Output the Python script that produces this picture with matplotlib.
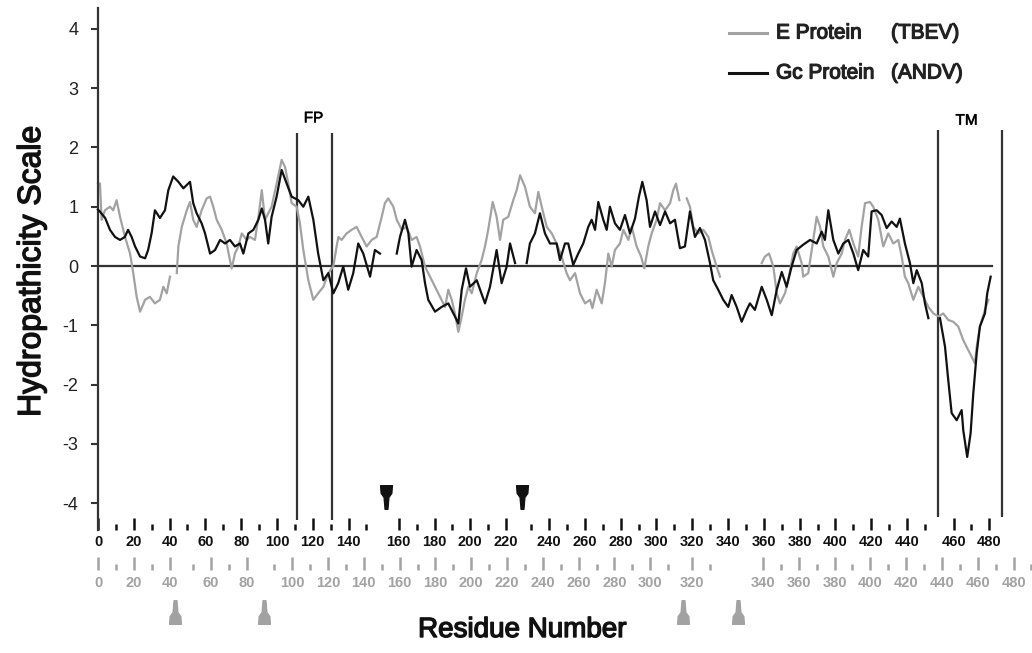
import numpy as np
import matplotlib

matplotlib.use("Agg")
import matplotlib.pyplot as plt
import matplotlib.patheffects as pe
from matplotlib.path import Path as MPath

plt.rcParams["font.family"] = ["Liberation Sans", "DejaVu Sans"]
plt.rcParams["axes.unicode_minus"] = False

nan = np.nan

# Gc protein (ANDV) hydropathy, x = alignment position
gc_x = [0, 1, 4, 6.7, 9.5, 12.3, 15, 16.8, 18.8, 20.7, 23.5, 26.3, 28, 30, 31.8, 34.6, 37.4, 39.3,
        42, 44.9, 47.7, 51.4, 53.2, 55.1, 57.9, 59.8, 62.6, 65.4, 68.2, 71, 73.7, 76.5, 79.3, 81.2,
        84, 86.8, 89.6, 91.5, 93.3, 95.1, 97, 99.8, 102.6, 105.4, 108.2, 111.9, 114.7, 117.5, 120.3,
        123, 125.9, 128.7, 131.5, 134.2, 137, 139.8, 142.6, 145.4, 148.2, 152, 154.7, 157.5, 160,
        166.9, 168.7, 171.5, 173.4, 175.2, 178, 180.8, 182.7, 184.5, 188.3, 192, 195.7, 199.4, 201.3,
        203.2, 205.6, 207.8, 211.6, 216.2, 219, 222.7, 225.5, 228.3, 230.2, 233, 236,
        239.5, 241.3, 244.1, 246.9, 249.7, 252.5, 256.2, 258.1, 260.9, 262.7, 265.5, 268.3, 271.1,
        273.9, 275.8, 277.7, 279.5, 282.3, 284.2, 286, 288.8, 291.6, 294.4, 297.2, 300, 302.2, 304.1,
        306.5, 308.4, 311.2, 314, 316.8, 319.6, 322.3, 325.1, 327.9, 330.7, 333.5, 336.3, 339.1,
        341.9, 343.7, 346.5, 349.3, 352.1, 354, 356.8, 359.6, 362.4, 364.2, 367, 370.8, 373.6, 376.4,
        379.2, 382, 384.7, 387.5, 390.3, 394, 397.8, 401.5, 404.3, 406.1, 408, 410.8, 413.6, 416.4,
        419.2, 422, 424.7, 427.5, 430.3, 432.2, 435, 437.8, 440.6, 443.4, 446.2, 448, 450.8, 453.6,
        455.5, 457.4, 460.2, 462, 463.9, 467,
        470.4, 473.2, 475, 476.9, 479.7, 482.5, 483.4, 485.6, 487.5, 489, 490.9, 492.7, 495.5,
        496.8, 498.7]
gc_y = [0.95, 0.92, 0.81, 0.61, 0.49, 0.44, 0.49, 0.61, 0.49, 0.33, 0.16, 0.13, 0.27, 0.56, 0.94,
        0.81, 0.94, 1.28, 1.51, 1.42, 1.31, 1.42, 1.06, 0.89, 0.72, 0.55, 0.21, 0.27, 0.44, 0.38,
        0.44, 0.33, 0.38, 0.21, 0.55, 0.61, 0.78, 0.97, 0.78, 0.38, 0.83, 1.17, 1.62, 1.39, 1.17,
        1.11, 1.0, 1.17, 0.78, 0.21, -0.24, -0.12, -0.46, -0.29, -0.01, -0.40, -0.12, 0.38, 0.21,
        -0.18, 0.27, 0.21, nan,
        0.21, 0.49, 0.78, 0.55, -0.01, 0.27, 0.10, -0.29, -0.57, -0.77, -0.69, -0.63, -0.85, -0.97,
        -0.40, -0.04, -0.35, -0.24, -0.63, -0.35, 0.27, -0.29, -0.01, 0.38, 0.05, nan,
        0.05, 0.38, 0.55, 0.89, 0.55, 0.38, 0.38, 0.10, 0.38, 0.38, 0.02, 0.21, 0.38,
        0.66, 0.78, 0.61, 1.08, 0.78, 0.61, 1.0, 0.72, 0.61, 0.86, 0.55, 0.80, 1.17, 1.42,
        1.11, 0.66, 0.92, 0.69, 0.92, 0.72, 0.78, 0.30, 0.33, 0.92, 0.49, 0.64, 0.44,
        0.05, -0.24, -0.40, -0.57, -0.69, -0.49, -0.69, -0.94, -0.74, -0.63, -0.74, -0.35, -0.57, -0.83,
        -0.40, -0.10, -0.35, -0.01, 0.27, 0.36, 0.44, 0.38, 0.58, 0.44, 0.94, 0.44, 0.21, 0.38,
        0.44, 0.21, -0.07, 0.27, 0.16, 0.92, 0.94, 0.86, 0.64, 0.75, 0.66, 0.80, 0.38, 0.05,
        -0.29, -0.07, -0.29, -0.63, -0.88, nan,
        -0.88, -1.36, -1.92, -2.48, -2.60, -2.43, -2.77, -3.22, -2.82, -2.15, -1.47, -1.02, -0.80,
        -0.46, -0.18]

# E protein (TBEV) hydropathy, x = alignment position
e_x = [0, 1.1, 2, 3.9, 6.7, 8.5, 10.4, 12.3, 15.1, 17.9, 19.7, 21.6, 23.5, 26.3, 29, 31.8, 34.6,
       36.5, 38.4, 40.2, 42,
       44, 44.9, 46.8, 49.6, 51.4, 53.2, 55.1, 57.9, 60.7, 62.6, 64.4, 66.3, 69.1, 71.9, 73.7, 74.7,
       76.5, 78.4, 80.3, 83.1, 84.9, 87.7, 89.9, 91.5, 93.3, 97, 99.8, 102.6, 104.5, 106.3, 108.2,
       111, 112.8, 114.7, 117.5, 120.3, 123, 125.9, 128.7, 131.5, 133.3, 134.3, 136.1, 138.9, 141.7,
       144.5, 147.3, 150.1, 152.9, 155.7, 158.5, 160.3, 162.2, 165, 166.9, 169.7, 172.4, 175.2, 178,
       179.9, 182.7, 185.5, 188.3, 191.1, 193.9, 195.7, 197.6, 199.4, 201.3, 203.2, 205, 206.9,
       208.8, 211.6, 214.3, 216.2, 218, 220.5, 222.7, 224.6, 226.4, 229.2, 232, 233.9, 235.8, 238.5,
       241.3, 244.1, 246, 247.9, 250.7, 253.5, 256.2, 259, 261.8, 263.7, 266.5, 269.3, 272.1, 274.9,
       276.2, 278.6, 281.4, 283.2, 285.1, 287, 288.8, 291.6, 293.5, 296.3, 298.2, 300.9, 303.4,
       305.2, 307.4, 309.3, 312.1, 314, 316.8, 319.6, 321.4, 322.9, 324.8, 327,
       328.9, 330.7, 332.6, 335.4, 338.2, 341, 342.8, 345.6, 347.5, 360,
       370.8, 372.6, 374.9, 377.3, 379.2, 381, 383.8, 385.6, 388.4, 390.3, 393.1, 394, 396.8, 399.6,
       401.5, 403.4, 405.2, 408, 410.8, 412.7, 415.5, 417.3, 419.7, 422, 424.7, 426.6, 428.5, 431.3,
       433.1, 435.9, 438.7, 441.5, 444.3, 447.1, 449, 450.8, 452.7, 455.5, 458.3, 461.1, 463.9,
       466.7, 469.6, 472.2, 475, 477.8, 480.6, 483.4, 486.2, 488.1, 489.9, 490.9, 492.7, 495.5, 497.4]
e_y = [1.40, 1.39, 0.78, 0.94, 1.0, 0.94, 1.11, 0.83, 0.49, 0.21, -0.12, -0.52, -0.77, -0.57,
       -0.52, -0.63, -0.57, -0.35, -0.46, -0.18, nan,
       -0.12, 0.33, 0.66, 0.94, 1.08, 0.78, 0.66, 0.94, 1.14, 1.17, 1.0, 0.78, 0.61, 0.38, 0.10,
       -0.04, 0.21, 0.33, 0.55, 0.44, 0.49, 0.44, 0.89, 1.28, 0.78, 1.0, 1.39, 1.79, 1.67, 1.39,
       1.06, 1.0, 0.72, 0.27, -0.24, -0.57, -0.46, -0.35, -0.12, 0.0, 0.33, 0.49, 0.44, 0.55, 0.61,
       0.66, 0.49, 0.33, 0.44, 0.49, 0.83, 1.06, 1.14, 1.0, 0.78, 0.61, 0.66, 0.44, 0.49,
       0.33, -0.01, -0.18, -0.35, -0.52, -0.69, -0.40, -0.57, -0.80, -1.11, -0.85, -0.57, -0.35,
       -0.46, -0.12, 0.10, 0.33, 0.61, 1.08, 0.83, 0.44, 0.78, 0.83, 1.11, 1.28, 1.53, 1.34,
       1.0, 0.89, 1.25, 1.0, 0.66, 0.55, 0.38, 0.16, -0.12, -0.24, -0.12, -0.46, -0.63, -0.57,
       -0.71, -0.40, -0.63, -0.29, 0.21, -0.01, 0.27, 0.38, 0.61, 0.44, 0.66, 0.33, 0.16,
       -0.04, 0.33, 0.55, 0.78, 1.06, 0.94, 1.06, 1.28, 1.39, 1.11, nan,
       1.14, 1.0, 0.66, 0.55, 0.61, 0.49, 0.27, -0.01, -0.18, nan,
       0.05, 0.16, 0.21, -0.01, -0.46, -0.63, -0.46, -0.24, 0.21, 0.33, 0.05, -0.18, -0.12, 0.44,
       0.83, 0.66, 0.33, 0.16, -0.18, 0.05, 0.21, 0.44, 0.61, 0.38, 0.16, 0.66, 1.06, 1.08,
       1.0, 0.78, 0.33, 0.55, 0.38, 0.44, 0.16, -0.18, -0.29, -0.57, -0.35, -0.52, -0.69,
       -0.80, -0.85, -0.80, -0.91, -0.94, -1.02, -1.25, -1.42, -1.53, -1.64, -1.36, -1.02, -0.74, -0.57]

# residue numbering of each protein on the shared alignment axis (gap inserted after residue)
gc_residues = list(range(0, 490, 10))
gc_gaps = [(150, 8), (220, 4), (450, 6)]
e_residues = list(range(0, 500, 10))
e_gaps = [(40, 3), (80, 5.5), (310, 3.5), (330, 19.5)]

fp_bounds = [111, 130.7]
tm_bounds = [469.5, 505]
gc_glyco = [161, 237]
e_glyco = [43, 93, 327, 357.5]

GRAY = "#a2a2a2"
DARK = "#111111"
LINE = "#333333"


def to_align(residues, gaps):
    return [r + sum(g for after, g in gaps if r > after) for r in residues]


def heavy(color, w=0.7):
    return [pe.withStroke(linewidth=w, foreground=color)]


# marker shapes: arrow-ish wedge with a stem
down_verts = [(-0.5, 1), (0.5, 1), (0.45, 0.35), (0.2, 0.0), (0.12, -1), (-0.12, -1),
              (-0.2, 0.0), (-0.45, 0.35), (-0.5, 1)]
down_mark = MPath(down_verts, closed=True)
up_mark = MPath([(x, -y) for x, y in down_verts], closed=True)

fig = plt.figure(figsize=(10.32, 6.53), dpi=100)
ax = fig.add_axes([0, 0, 1, 1])
ax.set_xlim(-54.75, 521.8)
ax.set_ylim(-6.526, 4.486)
ax.patch.set_visible(False)

for side in ["top", "right", "bottom"]:
    ax.spines[side].set_visible(False)
ax.spines["left"].set_position(("data", 0))
ax.spines["left"].set_bounds(-4.45, 4.35)
ax.spines["left"].set_linewidth(1.6)
ax.spines["left"].set_color(LINE)
ax.set_xticks([])
ax.set_yticks(range(-4, 5))
ax.tick_params(axis="y", direction="out", length=5, width=1.5, color=LINE, pad=9,
               labelsize=13, labelcolor="#222222")

# zero line and FP / TM region markers
ax.plot([0, 499.4], [0, 0], color=LINE, lw=1.6, zorder=1)
ax.vlines(fp_bounds, -4.28, 2.24, color=LINE, lw=1.6)
ax.vlines(tm_bounds, -4.23, 2.30, color=LINE, lw=1.6)
ax.text(np.mean(fp_bounds) - 0.5, 2.49, "FP", ha="center", va="center", fontsize=11,
        path_effects=heavy("#111111", 0.4))
ax.text(np.mean(tm_bounds) - 2, 2.45, "TM", ha="center", va="center", fontsize=11,
        path_effects=heavy("#111111", 0.4))

# hydropathy profiles
ax.plot(e_x, e_y, color=GRAY, lw=1.6, zorder=2)
ax.plot(gc_x, gc_y, color=DARK, lw=1.6, zorder=3)

# residue scales
gc_pos = to_align(gc_residues, gc_gaps)
for r, p in zip(gc_residues, gc_pos):
    major = r % 20 == 0
    ax.plot([p, p], [-4.25 if major else -4.35, -4.45], color=DARK, lw=1.8,
            solid_capstyle="butt")
    if major:
        ax.text(p, -4.66, str(r), ha="center", va="center", fontsize=10.5,
                fontweight="bold", color=DARK)

e_pos = to_align(e_residues, e_gaps)
for r, p in zip(e_residues, e_pos):
    major = r % 20 == 0
    ax.plot([p, p], [-4.91 if major else -5.02, -5.13], color=GRAY, lw=1.8,
            solid_capstyle="butt")
    if major and r <= 480:
        ax.text(p, -5.34, str(r), ha="center", va="center", fontsize=10.5,
                fontweight="bold", color=GRAY)

ax.plot(gc_glyco, [-3.89] * len(gc_glyco), linestyle="none", marker=down_mark,
        markersize=17, color=DARK)
ax.plot(e_glyco, [-5.83] * len(e_glyco), linestyle="none", marker=up_mark,
        markersize=17, color=GRAY)

# axis titles
fig.text(32 / 1032, 1 - 271 / 653, "Hydropathicity Scale", rotation=90, ha="center",
         va="center", fontsize=23, color="#111111", path_effects=heavy("#111111", 1.0))
fig.text(522 / 1032, 1 - 630 / 653, "Residue Number", ha="center", va="center",
         fontsize=20, color="#111111", path_effects=heavy("#111111", 1.0))

# legend
for yy, col, name, virus in [(33, GRAY, "E Protein", "(TBEV)"), (73, DARK, "Gc Protein", "(ANDV)")]:
    fy = 1 - yy / 653
    fig.add_artist(plt.Line2D([729 / 1032, 767 / 1032], [fy, fy], color=col, lw=2.2))
    fig.text(776 / 1032, fy, name, ha="left", va="center", fontsize=15, color="#222222",
             path_effects=heavy("#222222", 0.9))
    fig.text(891 / 1032, fy, virus, ha="left", va="center", fontsize=15, color="#222222",
             path_effects=heavy("#222222", 0.9))

fig.savefig("out.png", dpi=100)
